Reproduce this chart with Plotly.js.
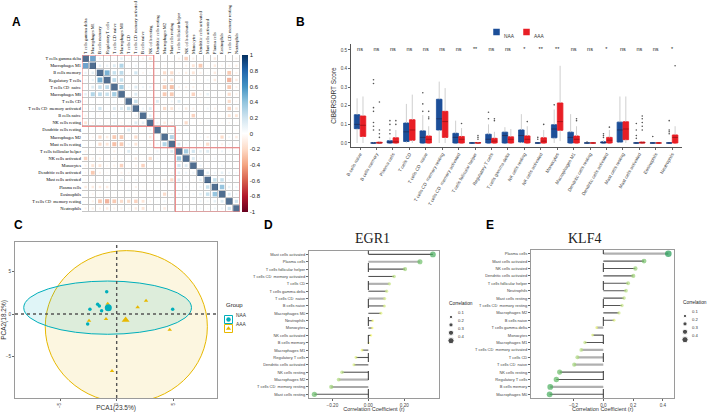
<!DOCTYPE html>
<html>
<head>
<meta charset="utf-8">
<script src="https://cdn.plot.ly/plotly-3.0.1.min.js"></script>
<style>
html, body { margin: 0; padding: 0; background: #fff; }
#chart { width: 708px; height: 412px; }
</style>
</head>
<body>
<div id="chart"></div>
<script>
// ---------- A: correlation matrix ----------
const cellTypes = ['T cells gamma delta', 'Macrophages M1', 'B cells memory', 'Regulatory T cells',
  'T cells CD  naive', 'Macrophages M0', 'T cells CD', 'T cells CD  memory activated', 'B cells naive',
  'NK cells resting', 'Dendritic cells resting', 'Macrophages M2', 'Mast cells resting',
  'T cells follicular helper', 'NK cells activated', 'Monocytes', 'Dendritic cells activated',
  'Mast cells activated', 'Plasma cells', 'Eosinophils', 'T cells CD  memory resting', 'Neutrophils'];

// lower triangle, row i holds r(i, j) for j < i
const corrLower = [
  [],
  [0.70],
  [0.12, 0.15],
  [0.08, 0.12, 0.60],
  [0.05, 0.20, 0.30, 0.35],
  [0.15, 0.40, 0.35, 0.30, 0.45],
  [-0.08, 0.05, -0.05, 0.03, 0.08, -0.05],
  [0.08, 0.10, 0.25, 0.05, 0.20, 0.20, 0.30],
  [-0.10, 0.05, -0.08, 0.05, 0.10, 0.05, -0.05, 0.10],
  [-0.20, -0.10, 0.08, -0.05, 0.12, -0.08, 0.05, 0.20, 0.15],
  [0.03, 0.05, -0.05, 0.05, -0.05, 0.05, 0.20, 0.05, -0.05, 0.10],
  [0.05, -0.08, -0.25, -0.15, -0.35, -0.35, 0.05, -0.25, -0.05, -0.15, 0.05],
  [-0.05, 0.05, -0.25, -0.20, -0.40, -0.35, 0.10, -0.20, -0.05, -0.10, 0.10, 0.40],
  [-0.10, -0.05, -0.08, 0.05, -0.10, -0.05, 0.20, 0.08, 0.05, -0.05, 0.10, 0.05, 0.20],
  [-0.30, -0.10, -0.12, -0.05, -0.10, -0.08, 0.05, -0.15, -0.05, -0.25, 0.08, 0.05, 0.08, 0.45],
  [-0.10, -0.20, -0.20, -0.08, -0.10, -0.30, 0.05, -0.10, -0.30, -0.05, 0.05, 0.05, -0.05, 0.25, 0.20],
  [-0.08, -0.35, -0.10, -0.05, -0.05, -0.10, -0.08, -0.05, -0.05, -0.08, 0.05, 0.08, -0.08, 0.15, 0.10, 0.10],
  [-0.05, -0.05, 0.05, 0.08, 0.05, 0.15, 0.05, 0.10, 0.05, -0.05, -0.05, -0.10, -0.25, 0.20, 0.05, -0.05, 0.15],
  [-0.15, -0.15, -0.15, -0.15, -0.05, -0.05, 0.05, -0.10, -0.05, -0.05, 0.05, 0.05, -0.05, 0.05, 0.08, 0.05, 0.10, 0.30],
  [-0.05, -0.08, -0.05, -0.05, -0.05, -0.05, 0.03, -0.05, -0.05, -0.05, 0.05, -0.25, -0.10, 0.10, 0.05, 0.08, 0.15, 0.30, 0.50],
  [-0.05, -0.10, -0.35, -0.45, -0.35, -0.25, -0.25, -0.30, -0.20, -0.08, 0.05, 0.10, 0.08, 0.05, 0.05, 0.05, 0.10, 0.08, 0.15, 0.20],
  [-0.10, -0.12, -0.10, -0.15, -0.10, -0.10, -0.08, -0.15, -0.20, -0.05, -0.05, -0.15, -0.05, 0.05, 0.03, 0.05, 0.08, 0.05, 0.10, 0.10, 0.25]
];
const clusters = [[0, 9], [10, 12], [13, 21]];
const colorTicks = [1, 0.8, 0.6, 0.4, 0.2, 0, -0.2, -0.4, -0.6, -0.8, -1];

// ---------- B: CIBERSORT boxplot ----------
const boxCats = ['B cells naive', 'B cells memory', 'Plasma cells', 'T cells CD', 'T cells CD  naive',
  'T cells CD  memory resting', 'T cells CD  memory activated', 'T cells follicular helper',
  'Regulatory T cells', 'T cells gamma delta', 'NK cells resting', 'NK cells activated', 'Monocytes',
  'Macrophages M1', 'Dendritic cells resting', 'Dendritic cells activated', 'Mast cells resting',
  'Mast cells activated', 'Eosinophils', 'Neutrophils'];
const sigLabels = ['ns', 'ns', 'ns', 'ns', 'ns', 'ns', 'ns', '**', 'ns', 'ns', '*', '**', '**', 'ns', 'ns', '*', 'ns', 'ns', 'ns', '*'];

const naaQ1  = [0.077, 0, 0, 0.008, 0, 0.070, 0, 0, 0, 0, 0.005, 0, 0.028, 0, 0, 0, 0.005, 0, 0, 0];
const naaMed = [0.100, 0, 0.004, 0.060, 0.030, 0.130, 0.030, 0, 0.020, 0.040, 0.040, 0, 0.075, 0.030, 0, 0.002, 0.070, 0, 0, 0];
const naaQ3  = [0.152, 0, 0.012, 0.107, 0.065, 0.235, 0.052, 0, 0.047, 0.058, 0.070, 0, 0.098, 0.058, 0, 0.006, 0.112, 0, 0, 0];
const naaLo  = [0, 0, 0, 0, 0, 0, 0, 0, 0, 0, 0, 0, 0, 0, 0, 0, 0, 0, 0, 0];
const naaHi  = [0.240, 0.002, 0.030, 0.210, 0.150, 0.330, 0.120, 0, 0.100, 0.085, 0.155, 0, 0.180, 0.155, 0, 0.015, 0.250, 0, 0, 0];
const aaaQ1  = [0.035, 0, 0, 0.015, 0, 0.030, 0, 0, 0, 0, 0, 0, 0.068, 0, 0, 0, 0.018, 0, 0, 0];
const aaaMed = [0.095, 0, 0.006, 0.070, 0.020, 0.115, 0.020, 0, 0.010, 0.020, 0.020, 0.010, 0.115, 0.020, 0, 0.015, 0.075, 0.001, 0, 0.030];
const aaaQ3  = [0.145, 0.004, 0.028, 0.125, 0.037, 0.170, 0.035, 0.002, 0.025, 0.033, 0.038, 0.028, 0.215, 0.037, 0, 0.030, 0.114, 0.005, 0, 0.043];
const aaaLo  = [0, 0, 0, 0, 0, 0, 0, 0, 0, 0, 0, 0, 0.010, 0, 0, 0, 0, 0, 0, 0];
const aaaHi  = [0.250, 0.010, 0.070, 0.260, 0.090, 0.295, 0.080, 0.005, 0.060, 0.075, 0.090, 0.070, 0.415, 0.090, 0, 0.070, 0.250, 0.010, 0, 0.090];
const naaOut = [[], [0.34, 0.32, 0.19, 0.17, 0.11, 0.09, 0.07], [0.12, 0.10, 0.07, 0.05], [], [0.27, 0.21, 0.17],
  [], [], [], [0.165, 0.13], [], [], [0.03, 0.02], [0.205], [], [0.005], [0.05, 0.04, 0.03], [],
  [0.105, 0.07, 0.04, 0.025], [0.035], [0.12, 0.07, 0.06, 0.05]];
const aaaOut = [[], [0.22, 0.07, 0.05, 0.03], [0.12, 0.10], [], [0.17, 0.14, 0.13], [], [0.105],
  [0.04, 0.03, 0.02], [0.13, 0.12], [], [0.115], [0.10], [], [0.13, 0.12], [], [0.085], [],
  [0.145, 0.13, 0.11, 0.09, 0.07], [], [0.415]];

// ---------- C: PCA ----------
const naaPC1 = [-0.88, -2.36, -1.68, -1.53, -1.33, -2.56, 4.94];
const naaPC2 = [2.64, 0.55, 1.15, 0.95, 0.39, -1.18, 0.55];
const aaaPC1 = [-0.79, -2.44, -0.94, 1.85, 2.59, 4.68, -0.41];
const aaaPC2 = [1.20, -0.79, -0.59, 0.79, 1.58, -1.85, -6.75];
const naaCenter = [-0.74, 0.75];
const aaaCenter = [0.79, -0.71];
const naaEllX = [-8.2, 6.6], naaEllY = [-2.4, 3.9];
const aaaEllX = [-6.3, 8.0], aaaEllY = [-10.5, 7.5];
const groups = ['NAA', 'AAA'];

// ---------- D / E: lollipops ----------
const egr1Cells = ['Mast cells activated', 'Plasma cells', 'T cells follicular helper', 'T cells CD  memory activated',
  'T cells CD', 'T cells gamma delta', 'T cells CD  naive', 'B cells naive', 'Macrophages M0', 'Neutrophils',
  'Monocytes', 'NK cells activated', 'B cells memory', 'Macrophages M1', 'Regulatory T cells',
  'Dendritic cells activated', 'NK cells resting', 'Macrophages M2', 'T cells CD  memory resting', 'Mast cells resting'];
const egr1R = [0.359, 0.287, 0.204, 0.143, 0.117, 0.102, 0.091, 0.089, 0.070, 0.024, 0.022, 0.015, 0.002,
  -0.035, -0.069, -0.080, -0.146, -0.165, -0.206, -0.300];
const egr1Light = [0, 1, 0, 0, 1, 0, 1, 0, 0, 0, 0, 0, 0, 0, 0, 0, 0, 1, 0, 0];

const klf4Cells = ['Plasma cells', 'Mast cells activated', 'NK cells activated', 'Dendritic cells activated',
  'T cells follicular helper', 'Neutrophils', 'Mast cells resting', 'T cells CD  memory resting', 'Macrophages M2',
  'B cells naive', 'T cells gamma delta', 'Monocytes', 'Macrophages M1', 'T cells CD  memory activated',
  'T cells CD', 'T cells CD  naive', 'NK cells resting', 'Regulatory T cells', 'B cells memory', 'Macrophages M0'];
const klf4R = [0.436, 0.273, 0.215, 0.201, 0.166, 0.152, 0.139, 0.125, 0.105, 0.072, -0.045, -0.072, -0.123,
  -0.148, -0.174, -0.195, -0.293, -0.315, -0.356, -0.360];
const klf4Light = [1, 0, 0, 0, 0, 0, 0, 0, 0, 0, 1, 0, 0, 1, 1, 1, 0, 0, 1, 0];

const sizeLegend = [0.1, 0.2, 0.3, 0.4];

// ---------- build ----------
const W = 708, H = 412;
const px = v => v / W, py = v => 1 - v / H;
const NAA_C = '#1C4E98', AAA_C = '#E81E25';
const TEAL = '#00AFBB', GOLD = '#E7B800';
const dotSize = v => 2.2 + 10 * Math.abs(v);

const idxA = cellTypes.map((_, i) => i);
const corr = cellTypes.map((_, i) => cellTypes.map((_, j) =>
  i === j ? 1 : (i > j ? corrLower[i][j] : corrLower[j][i])));

const rdbu = [[0, '#67001F'], [0.1, '#B2182B'], [0.2, '#D6604D'], [0.3, '#F4A582'], [0.4, '#FDDBC7'],
  [0.5, '#FFFFFF'], [0.6, '#D1E5F0'], [0.7, '#92C5DE'], [0.8, '#4393C3'], [0.9, '#2166AC'], [1, '#053061']];

const sqX = [], sqY = [], sqC = [], sqS = [];
corr.forEach((row, i) => row.forEach((r, j) => {
  sqX.push(j); sqY.push(i); sqC.push(r); sqS.push(6.4 * Math.sqrt(Math.abs(r)));
}));

const traces = [];
traces.push({
  type: 'heatmap', z: corr, x: idxA, y: idxA, xaxis: 'x', yaxis: 'y',
  colorscale: [[0, '#fff'], [1, '#fff']], showscale: false, xgap: 1, ygap: 1, hoverinfo: 'skip'
});
traces.push({
  type: 'scatter', mode: 'markers', x: sqX, y: sqY, xaxis: 'x', yaxis: 'y', showlegend: false,
  marker: {
    symbol: 'square', size: sqS, color: sqC, colorscale: rdbu, cmin: -1, cmax: 1, line: {width: 0},
    showscale: true,
    colorbar: {
      x: px(242), xanchor: 'left', y: py(133.5), yanchor: 'middle', len: 157 / H, thickness: 6,
      outlinewidth: 0, xpad: 0, ypad: 0, tickvals: colorTicks, ticktext: colorTicks.map(String),
      ticks: '', tickfont: {size: 6, color: '#222'}
    }
  }
});

// B boxes
const boxX = boxCats.map((_, i) => i);
const naaX = boxX.map(i => i - 0.18), aaaX = boxX.map(i => i + 0.18);
function whisk(xs, lo, q1, q3, hi) {
  const x = [], y = [];
  xs.forEach((v, i) => { x.push(v, v, null, v, v, null); y.push(lo[i], q1[i], null, q3[i], hi[i], null); });
  return {x, y};
}
function meds(xs, m) {
  const x = [], y = [];
  xs.forEach((v, i) => { x.push(v - 0.17, v + 0.17, null); y.push(m[i], m[i], null); });
  return {x, y};
}
function outs(xs, o) {
  const x = [], y = [];
  xs.forEach((v, i) => o[i].forEach(val => { x.push(v); y.push(val); }));
  return {x, y};
}
[[naaX, naaLo, naaQ1, naaQ3, naaHi], [aaaX, aaaLo, aaaQ1, aaaQ3, aaaHi]].forEach(a => {
  const w = whisk(...a);
  traces.push({type: 'scatter', mode: 'lines', x: w.x, y: w.y, xaxis: 'x2', yaxis: 'y2', showlegend: false,
    line: {color: '#cfcfcf', width: 1}, hoverinfo: 'skip'});
});
traces.push({type: 'box', name: 'NAA', x: naaX, q1: naaQ1, median: naaMed, q3: naaQ3, lowerfence: naaQ1,
  upperfence: naaQ3, width: 0.34, fillcolor: NAA_C, line: {color: NAA_C, width: 0.8}, xaxis: 'x2', yaxis: 'y2',
  showlegend: false});
traces.push({type: 'box', name: 'AAA', x: aaaX, q1: aaaQ1, median: aaaMed, q3: aaaQ3, lowerfence: aaaQ1,
  upperfence: aaaQ3, width: 0.34, fillcolor: AAA_C, line: {color: AAA_C, width: 0.8}, xaxis: 'x2', yaxis: 'y2',
  showlegend: false});
[[naaX, naaMed], [aaaX, aaaMed]].forEach(a => {
  const m = meds(...a);
  traces.push({type: 'scatter', mode: 'lines', x: m.x, y: m.y, xaxis: 'x2', yaxis: 'y2', showlegend: false,
    line: {color: 'rgba(40,0,0,0.55)', width: 0.6}, hoverinfo: 'skip'});
});
[[naaX, naaOut], [aaaX, aaaOut]].forEach(a => {
  const o = outs(...a);
  traces.push({type: 'scatter', mode: 'markers', x: o.x, y: o.y, xaxis: 'x2', yaxis: 'y2', showlegend: false,
    marker: {color: '#555', size: 1.6}});
});
traces.push({type: 'scatter', mode: 'text', x: boxX, y: boxX.map(() => 0.5), text: sigLabels,
  textfont: {size: 5.5, color: '#222'}, xaxis: 'x2', yaxis: 'y2', showlegend: false, hoverinfo: 'skip'});

// C PCA
traces.push({type: 'scatter', mode: 'markers', name: 'NAA', x: naaPC1, y: naaPC2, xaxis: 'x3', yaxis: 'y3',
  marker: {color: TEAL, size: 3.5, symbol: 'circle'}, showlegend: false});
traces.push({type: 'scatter', mode: 'markers', name: 'AAA', x: aaaPC1, y: aaaPC2, xaxis: 'x3', yaxis: 'y3',
  marker: {color: GOLD, size: 4, symbol: 'triangle-up'}, showlegend: false});
traces.push({type: 'scatter', mode: 'markers', x: [naaCenter[0]], y: [naaCenter[1]], xaxis: 'x3', yaxis: 'y3',
  marker: {color: TEAL, size: 7, symbol: 'circle'}, showlegend: false});
traces.push({type: 'scatter', mode: 'markers', x: [aaaCenter[0]], y: [aaaCenter[1]], xaxis: 'x3', yaxis: 'y3',
  marker: {color: GOLD, size: 7, symbol: 'triangle-up'}, showlegend: false});

// D / E lollipops
const greens = [[0, '#FFFF66'], [0.25, '#CBE78A'], [0.5, '#95CF72'], [0.75, '#55B461'], [1, '#1E9A52']];
function lolli(r, light, ax, ay) {
  const rows = r.map((_, i) => i);
  [0, 1].forEach(flag => {
    const x = [], y = [];
    r.forEach((v, i) => { if (light[i] === flag) { x.push(0, v, null); y.push(i, i, null); } });
    traces.push({type: 'scatter', mode: 'lines', x, y, xaxis: ax, yaxis: ay, showlegend: false, hoverinfo: 'skip',
      line: flag ? {color: '#b0b0b0', width: 2.2} : {color: '#555', width: 1.1}});
  });
  traces.push({type: 'scatter', mode: 'markers', x: r, y: rows, xaxis: ax, yaxis: ay, showlegend: false,
    marker: {size: r.map(dotSize), color: r.map(v => Math.abs(v)),
      colorscale: greens, cmin: 0, cmax: 0.44, line: {width: 0}}});
}
lolli(egr1R, egr1Light, 'x4', 'y4');
lolli(klf4R, klf4Light, 'x5', 'y5');

// compact legends drawn on a pixel overlay axis (x6/y6)
const annotations = [];
function note(text, x, y, size, color) {
  annotations.push({text, x: px(x), y: py(y), xref: 'paper', yref: 'paper', xanchor: 'left', showarrow: false,
    font: {size, color: color || '#333'}});
}
function sizeKey(x0, y0) {
  note('Correlation', x0 - 2, y0, 4.8, '#222');
  traces.push({type: 'scatter', mode: 'markers', x: sizeLegend.map(() => x0 + 2),
    y: sizeLegend.map((_, k) => y0 + 9.5 + k * 7.9), xaxis: 'x6', yaxis: 'y6', showlegend: false,
    marker: {color: '#000', size: sizeLegend.map(dotSize)}});
  sizeLegend.forEach((s, k) => note(s.toFixed(1), x0 + 7, y0 + 9.5 + k * 7.9, 4.2));
}
sizeKey(449, 307.5);
sizeKey(683, 306.5);

note('Group', 223.5, 310, 6, '#222');
const grpY = groups.map((_, k) => 319.5 + k * 9);
traces.push({type: 'scatter', mode: 'markers', x: groups.map(() => 228.5), y: grpY, xaxis: 'x6', yaxis: 'y6',
  showlegend: false, marker: {symbol: 'square-open', size: 8, color: [TEAL, GOLD], line: {width: 1}}});
traces.push({type: 'scatter', mode: 'markers', x: groups.map(() => 228.5), y: grpY, xaxis: 'x6', yaxis: 'y6',
  showlegend: false, marker: {symbol: ['circle', 'triangle-up'], size: 4.5, color: [TEAL, GOLD]}});
groups.forEach((g, k) => note(g, 234, grpY[k], 4.8));

// B legend
const bLegX = groups.map((_, k) => 496.5 + k * 30);
traces.push({type: 'scatter', mode: 'markers', x: bLegX, y: groups.map(() => 32), xaxis: 'x6', yaxis: 'y6',
  showlegend: false, marker: {symbol: 'square', size: 6.5, color: [NAA_C, AAA_C]}});
groups.forEach((g, k) => note(g, bLegX[k] + 5, 32, 4.8));

// ---------- layout ----------
const shapes = [
  {type: 'rect', xref: 'x domain', yref: 'y domain', x0: 0, x1: 1, y0: 0, y1: 1, fillcolor: '#c6c6c6',
    line: {width: 0}, layer: 'below'}
];
clusters.forEach(c => shapes.push({type: 'rect', xref: 'x', yref: 'y', x0: c[0] - 0.5, x1: c[1] + 0.5,
  y0: c[0] - 0.5, y1: c[1] + 0.5, line: {color: '#F27C7C', width: 1}, fillcolor: 'rgba(0,0,0,0)'}));
shapes.push({type: 'circle', xref: 'x3', yref: 'y3', x0: aaaEllX[0], x1: aaaEllX[1], y0: aaaEllY[0], y1: aaaEllY[1],
  fillcolor: 'rgba(231,184,0,0.12)', line: {color: GOLD, width: 1}, layer: 'below'});
shapes.push({type: 'circle', xref: 'x3', yref: 'y3', x0: naaEllX[0], x1: naaEllX[1], y0: naaEllY[0], y1: naaEllY[1],
  fillcolor: 'rgba(0,175,187,0.12)', line: {color: TEAL, width: 1}, layer: 'below'});
shapes.push({type: 'line', xref: 'x3', yref: 'y3 domain', x0: 0, x1: 0, y0: 0, y1: 1,
  line: {color: '#555', width: 1.4, dash: 'dot'}});
shapes.push({type: 'line', xref: 'x3 domain', yref: 'y3', x0: 0, x1: 1, y0: 0, y1: 0,
  line: {color: '#555', width: 1.4, dash: 'dot'}});
['x4', 'x5'].forEach((ax, k) => shapes.push({type: 'line', xref: ax, yref: (k ? 'y5' : 'y4') + ' domain',
  x0: 0, x1: 0, y0: 0, y1: 1, line: {color: '#333', width: 1, dash: 'dash'}}));

const tickF = {size: 4.6, color: '#444'};
const frame = {showline: true, mirror: true, linecolor: '#9a9a9a', linewidth: 1, zeroline: false, showgrid: false,
  ticks: 'outside', ticklen: 2, tickcolor: '#666', tickfont: tickF, automargin: false};

[['A', 10, 13], ['B', 300, 13], ['C', 12, 225], ['D', 268, 225], ['E', 496, 225]].forEach(p =>
  annotations.push({text: '<b>' + p[0] + '</b>', x: px(p[1]), y: py(p[2]), xref: 'paper', yref: 'paper',
    showarrow: false, font: {size: 12, color: '#000'}}));
annotations.push({text: 'EGR1', x: px(372), y: py(239), xref: 'paper', yref: 'paper', showarrow: false,
  font: {family: 'Liberation Serif, serif', size: 14, color: '#222'}});
annotations.push({text: 'KLF4', x: px(603), y: py(239), xref: 'paper', yref: 'paper', showarrow: false,
  font: {family: 'Liberation Serif, serif', size: 14, color: '#222'}});

const layout = {
  width: W, height: H, margin: {l: 0, r: 0, t: 0, b: 0}, paper_bgcolor: '#fff', plot_bgcolor: 'rgba(0,0,0,0)',
  font: {family: 'Liberation Sans, Arial, sans-serif', size: 6, color: '#333'},
  showlegend: false, shapes, annotations,
  xaxis: {domain: [px(82), px(240)], range: [-0.5, 21.5], side: 'top', tickvals: idxA, ticktext: cellTypes,
    tickangle: -90, tickfont: {family: 'Liberation Serif, serif', size: 4.4, color: '#000'}, showgrid: false,
    zeroline: false, ticks: '', automargin: false, anchor: 'y'},
  yaxis: {domain: [py(212), py(55)], range: [21.5, -0.5], tickvals: idxA, ticktext: cellTypes,
    tickfont: {family: 'Liberation Serif, serif', size: 4.4, color: '#000'}, showgrid: false, zeroline: false,
    ticks: '', automargin: false, anchor: 'x'},

  xaxis2: {domain: [px(351), px(682)], range: [-0.55, 19.6], tickvals: boxX, ticktext: boxCats, tickangle: -60,
    tickfont: tickF, showline: true, linecolor: '#555', linewidth: 1, ticks: 'outside', ticklen: 2,
    tickcolor: '#666', showgrid: false, zeroline: false, automargin: false, anchor: 'y2'},
  yaxis2: {domain: [py(146.7), py(44.4)], range: [-0.02, 0.53], tickvals: [0, 0.1, 0.2, 0.3, 0.4, 0.5],
    tickformat: '.1f', tickfont: tickF, showline: true, linecolor: '#555', linewidth: 1, ticks: 'outside',
    ticklen: 2, tickcolor: '#666', showgrid: false, zeroline: false, automargin: false, anchor: 'x2',
    title: {text: 'CIBERSORT Score', font: {size: 6.5, color: '#333'}, standoff: 3}},

  xaxis3: Object.assign({}, frame, {domain: [px(15), px(217)], range: [-8.97, 8.85], tickvals: [-5, 0, 5],
    tickangle: -90, anchor: 'y3', title: {text: 'PCA1(23.5%)', font: {size: 6.5, color: '#333'}, standoff: 2}}),
  yaxis3: Object.assign({}, frame, {domain: [py(398), py(242)], range: [-9.94, 8.52], tickvals: [-5, 0, 5],
    anchor: 'x3', title: {text: 'PCA2(18.2%)', font: {size: 6.5, color: '#333'}, standoff: 2}}),

  xaxis4: Object.assign({}, frame, {domain: [px(309), px(439)], range: [-0.33, 0.393], tickvals: [-0.2, 0, 0.2],
    tickformat: '.2f', anchor: 'y4',
    title: {text: 'Correlation Coefficient (r)', font: {size: 5.5, color: '#333'}, standoff: 2}}),
  yaxis4: Object.assign({}, frame, {domain: [py(398), py(250.7)], range: [19.5, -0.5], tickvals: egr1R.map((_, i) => i),
    ticktext: egr1Cells, tickfont: {size: 4, color: '#444'}, anchor: 'x4'}),

  xaxis5: Object.assign({}, frame, {domain: [px(531), px(674.3)], range: [-0.485, 0.476],
    tickvals: [-0.2, 0, 0.2, 0.4], tickformat: '.1f', anchor: 'y5',
    title: {text: 'Correlation Coefficient (r)', font: {size: 5.5, color: '#333'}, standoff: 2}}),
  yaxis5: Object.assign({}, frame, {domain: [py(398), py(250)], range: [19.5, -0.5], tickvals: klf4R.map((_, i) => i),
    ticktext: klf4Cells, tickfont: {size: 4, color: '#444'}, anchor: 'x5'}),

  xaxis6: {domain: [0, 1], range: [0, W], visible: false, anchor: 'y6', fixedrange: true},
  yaxis6: {domain: [0, 1], range: [H, 0], visible: false, anchor: 'x6', fixedrange: true}
};

Plotly.newPlot('chart', traces, layout, {displayModeBar: false, staticPlot: true});
</script>
</body>
</html>
